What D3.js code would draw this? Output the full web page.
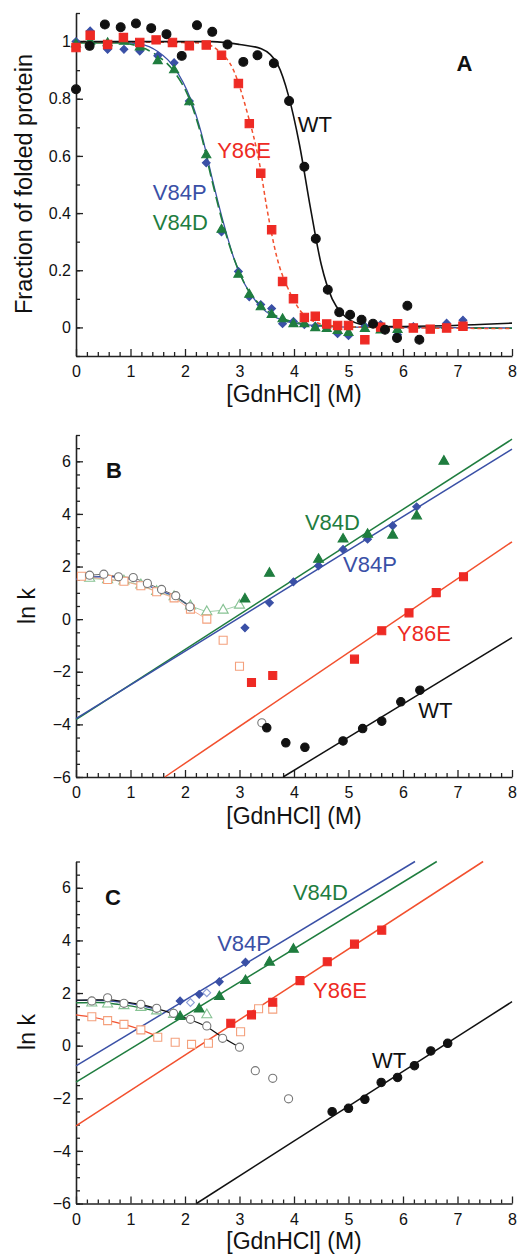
<!DOCTYPE html>
<html>
<head>
<meta charset="utf-8">
<script src="https://cdn.jsdelivr.net/npm/d3@7"></script>
<style>
body { margin: 0; background: #fff; }
svg text { font-family: "Liberation Sans", Arial, Helvetica, sans-serif; }
</style>
</head>
<body>
<script>
// ---- tick labels ----
var xTicks = [0, 1, 2, 3, 4, 5, 6, 7, 8];
var yTicksA = [0, 0.2, 0.4, 0.6, 0.8, 1];
var yTicksK = [-6, -4, -2, 0, 2, 4, 6];
var seriesNames = ["WT", "Y86E", "V84P", "V84D"];

// ---- panel A: fraction folded vs [GdnHCl] ----
var aWT = [[0,0.833],[0.25,0.985],[0.53,1.06],[0.82,1.05],[1.1,1.063],[1.38,1.047],[1.66,1.026],[1.94,0.95],[2.22,1.057],[2.5,1.034],[2.78,0.99],[3.07,0.929],[3.33,0.952],[3.63,0.924],[3.91,0.792],[4.19,0.562],[4.4,0.31],[4.62,0.132],[4.83,0.053],[5.03,0.044],[5.24,0.027],[5.45,0.013],[5.67,-0.008],[5.89,-0.037],[6.08,0.076],[6.3,-0.043]];
var aY86E = [[0,0.979],[0.26,1.022],[0.58,0.99],[0.87,1.014],[1.17,0.997],[1.47,1.006],[1.77,0.997],[2.08,0.985],[2.39,0.988],[2.67,0.952],[2.98,0.853],[3.18,0.713],[3.39,0.539],[3.59,0.342],[3.79,0.161],[3.99,0.1],[4.19,0.035],[4.39,0.039],[4.6,0.012],[4.8,0.007],[5.0,0.007],[5.3,-0.043],[5.59,0.001],[5.9,0.013],[6.19,-0.002],[6.5,-0.006],[6.8,-0.002],[7.1,0.004]];
var aV84P = [[0,1.0],[0.26,1.037],[0.58,0.973],[0.88,0.973],[1.17,0.967],[1.5,0.95],[1.8,0.926],[2.08,0.792],[2.39,0.576],[2.67,0.334],[2.98,0.196],[3.18,0.107],[3.39,0.08],[3.59,0.066],[3.79,0.013],[3.99,0.021],[4.19,0.01],[4.39,0.004],[4.6,0.0],[4.8,-0.022],[5.0,-0.029],[5.3,0.004],[5.59,0.01],[5.9,-0.026],[6.19,0.003],[6.8,0.015],[7.1,0.025]];
var aV84D = [[0,0.99],[0.26,1.0],[0.58,0.995],[0.88,1.0],[1.17,0.98],[1.5,0.932],[1.8,0.9],[2.08,0.788],[2.39,0.603],[2.67,0.342],[2.98,0.185],[3.18,0.115],[3.39,0.071],[3.59,0.044],[3.79,0.029],[3.99,0.012],[4.19,0.012],[4.39,-0.002],[4.6,-0.005],[4.8,-0.012],[5.0,-0.019],[5.3,-0.005],[5.59,-0.01],[5.9,-0.008]];
// fitted curves
var aWTfit = [[0,1.0],[2.5,1.0],[3.0,0.99],[3.4,0.975],[3.7,0.92],[3.9,0.81],[4.1,0.64],[4.3,0.42],[4.5,0.22],[4.7,0.1],[4.9,0.045],[5.2,0.012],[5.6,0.003],[6.5,0.005],[8,0.015]];
var aY86Efit = [[0,1.0],[2.3,0.995],[2.6,0.97],[2.89,0.9],[3.13,0.76],[3.38,0.56],[3.5,0.42],[3.68,0.25],[3.93,0.12],[4.11,0.06],[4.35,0.022],[4.7,0.006],[5.5,0],[8,-0.004]];
var aV84Pfit = [[0,1.0],[0.8,0.997],[1.2,0.99],[1.5,0.965],[1.8,0.91],[2.1,0.8],[2.3,0.68],[2.5,0.52],[2.7,0.37],[2.9,0.24],[3.1,0.15],[3.4,0.07],[3.8,0.025],[4.3,0.008],[5,0.001],[8,-0.002]];
var aV84Dfit = [[0,0.995],[0.8,0.995],[1.2,0.98],[1.5,0.95],[1.8,0.895],[2.1,0.79],[2.3,0.67],[2.5,0.51],[2.7,0.36],[2.9,0.24],[3.1,0.15],[3.4,0.075],[3.8,0.03],[4.3,0.01],[5,0.002],[8,-0.003]];

// ---- panel B: ln k ----
var bWT = [[3.5,-4.13],[3.85,-4.7],[4.2,-4.87],[4.9,-4.63],[5.26,-4.16],[5.61,-3.88],[5.96,-3.14],[6.31,-2.7]];
var bY86E = [[3.22,-2.41],[3.61,-2.14],[5.11,-1.52],[5.61,-0.44],[6.11,0.24],[6.61,1.01],[7.11,1.61]];
var bV84P = [[3.1,-0.33],[3.55,0.62],[3.99,1.42],[4.45,2.03],[4.9,2.65],[5.35,3.04],[5.81,3.55],[6.25,4.27]];
var bV84D = [[3.1,0.76],[3.55,1.74],[4.45,2.27],[4.9,3.04],[5.35,3.22],[5.81,3.19],[6.25,3.92],[6.75,6.0]];
var bWTopen = [[0.25,1.67],[0.51,1.71],[0.78,1.61],[1.05,1.58],[1.31,1.36],[1.57,1.13],[1.83,0.89],[2.09,0.47],[3.41,-3.94]];
var bY86Eopen = [[0.1,1.63],[0.58,1.51],[0.88,1.44],[1.19,1.27],[1.48,1.04],[1.8,0.81],[2.1,0.38],[2.4,0.0],[2.7,-0.8],[3.0,-1.79]];
var bV84Dopen = [[0.25,1.55],[0.58,1.5],[0.88,1.45],[1.19,1.3],[1.48,1.05],[1.8,0.85],[2.1,0.5],[2.4,0.28],[2.7,0.34],[3.0,0.53]];
var bWTfit = [[3.8,-6],[8,-0.7]];
var bY86Efit = [[1.63,-6],[8,2.94]];
var bV84Pfit = [[0,-3.78],[8,6.46]];
var bV84Dfit = [[0,-3.82],[8,6.84]];
var bRefFit = [[0,1.52],[0.3,1.6],[0.6,1.62],[0.9,1.56],[1.2,1.38],[1.5,1.12],[1.8,0.86],[2.1,0.48]];

// ---- panel C: ln k ----
var cWT = [[4.7,-2.51],[5.0,-2.38],[5.3,-2.04],[5.6,-1.4],[5.9,-1.21],[6.21,-0.76],[6.51,-0.2],[6.82,0.09]];
var cY86E = [[2.84,0.85],[3.22,1.17],[3.61,1.65],[4.11,2.47],[4.61,3.19],[5.11,3.86],[5.61,4.39]];
var cV84P = [[1.91,1.7],[2.26,1.95],[2.63,2.43],[3.11,3.17]];
var cV84D = [[1.91,1.1],[2.26,1.39],[2.63,1.86],[3.11,2.47],[3.55,3.17],[3.99,3.66]];
var cWTopen = [[0.29,1.7],[0.58,1.82],[0.88,1.61],[1.19,1.57],[1.48,1.42],[1.79,1.23],[2.1,1.0],[2.4,0.75],[2.69,0.28],[3.0,-0.06],[3.29,-0.95],[3.61,-1.24],[3.9,-2.02]];
var cY86Eopen = [[0.29,1.1],[0.58,0.95],[0.88,0.81],[1.19,0.6],[1.5,0.32],[1.82,0.13],[2.12,0.05],[2.43,0.09],[3.02,0.53],[3.35,1.4],[3.61,1.39]];
var cV84Dopen = [[0.29,1.62],[0.58,1.58],[0.88,1.52],[1.19,1.45],[1.48,1.32],[1.79,1.18],[2.4,1.17]];
var cV84Popen = [[2.1,1.64],[2.4,2.01]];
var cWTfit = [[2.21,-6],[8,1.67]];
var cY86Efit = [[0,-3.05],[7.47,7]];
var cV84Pfit = [[0,-0.77],[6.22,7]];
var cV84Dfit = [[0,-1.39],[6.62,7]];
var cWTref = [[0,1.73],[0.3,1.74],[0.6,1.74],[0.9,1.66],[1.2,1.56],[1.5,1.4],[1.8,1.2],[2.1,0.98],[2.4,0.72],[2.7,0.3],[3.0,-0.06]];
var cV84Pref = [[0,1.72],[0.4,1.72],[0.8,1.66],[1.2,1.52],[1.5,1.36]];
var cV84Dref = [[0,1.63],[0.4,1.64],[0.8,1.56],[1.2,1.44],[1.55,1.28]];
var cY86Eref = [[0,1.17],[0.3,1.08],[0.6,0.95],[0.9,0.8],[1.2,0.6],[1.5,0.35]];

// colours
var cBlack = "#111", cRed = "#ee2a24", cRedLine = "#f2502e", cBlue = "#3a50a6",
    cGreen = "#1f7d3f", cOrange = "#f4a07c", cLGreen = "#86c293", cGrey = "#777";

var W = 532, H = 1255;
var svg = d3.select("body").append("svg").attr("width", W).attr("height", H);

var x = d3.scaleLinear().domain([0, 8]).range([76, 512]);
var yA = d3.scaleLinear().domain([-0.1, 1.1]).range([356, 13]);
var yB = d3.scaleLinear().domain([-6, 7]).range([777, 435]);
var yC = d3.scaleLinear().domain([-6, 7]).range([1203.5, 861.5]);

var xMinor = d3.range(0, 8.001, 0.2).filter(function(v){ return Math.abs(v - Math.round(v)) > 0.01; });
var yMinorA = d3.range(-0.1, 1.1001, 0.1);
var yMinorK = d3.range(-6, 7.001, 0.5);

function drawAxes(y, yTicks, yFmt, yMinor, bottom) {
  var g = svg.append("g");
  // minor ticks
  g.append("g").attr("transform", "translate(0," + bottom + ")")
    .call(d3.axisBottom(x).tickValues(xMinor).tickSize(-4).tickFormat(""))
    .call(function(s){ s.select(".domain").remove(); });
  g.append("g").attr("transform", "translate(76,0)")
    .call(d3.axisLeft(y).tickValues(yMinor).tickSize(-4).tickFormat(""))
    .call(function(s){ s.select(".domain").remove(); });
  // major ticks + labels
  var xa = g.append("g").attr("transform", "translate(0," + bottom + ")")
    .call(d3.axisBottom(x).tickValues(xTicks).tickSizeInner(-7).tickSizeOuter(0).tickPadding(10).tickFormat(d3.format("d")));
  var ya = g.append("g").attr("transform", "translate(76,0)")
    .call(d3.axisLeft(y).tickValues(yTicks).tickSizeInner(-7).tickSizeOuter(0).tickPadding(5).tickFormat(yFmt));
  [xa, ya].forEach(function(a){
    a.selectAll("text").style("font-size", "16px").attr("fill", "#111");
    a.select(".domain").attr("stroke-width", 1.6);
  });
  g.selectAll("line").attr("stroke", "#222").attr("stroke-width", 1.3);
  g.selectAll(".domain").attr("stroke", "#222");
}

drawAxes(yA, yTicksA, function(d){ return d === 1 ? "1" : (d === 0 ? "0" : d3.format(".1f")(d)); }, yMinorA, 356);
drawAxes(yB, yTicksK, d3.format("d"), yMinorK, 777);
drawAxes(yC, yTicksK, d3.format("d"), yMinorK, 1203.5);

// axis titles
[402, 824, 1249].forEach(function(by){
  svg.append("text").attr("x", 294).attr("y", by).attr("text-anchor", "middle")
    .style("font-size", "23px").attr("fill", "#111").text("[GdnHCl] (M)");
});
svg.append("text").attr("transform", "translate(32,184) rotate(-90)").attr("text-anchor", "middle")
  .style("font-size", "23.5px").attr("fill", "#111").text("Fraction of folded protein");
[606, 1032].forEach(function(cy){
  svg.append("text").attr("transform", "translate(35," + cy + ") rotate(-90)").attr("text-anchor", "middle")
    .style("font-size", "23px").attr("fill", "#111").text("ln k");
});

function drawLine(data, y, color, width, dash, curve) {
  var line = d3.line().x(function(d){ return x(d[0]); }).y(function(d){ return y(d[1]); })
    .curve(curve || d3.curveLinear);
  svg.append("path").datum(data).attr("d", line).attr("fill", "none")
    .attr("stroke", color).attr("stroke-width", width).attr("stroke-dasharray", dash || null);
}

function drawPoints(data, y, shape, size, fill, stroke, rot) {
  var sym = d3.symbol().type(shape).size(size);
  svg.append("g").selectAll("path").data(data).enter().append("path")
    .attr("d", sym)
    .attr("transform", function(d){ return "translate(" + x(d[0]) + "," + y(d[1]) + ")" + (rot ? " rotate(45)" : ""); })
    .attr("fill", fill).attr("stroke", stroke).attr("stroke-width", 1.1);
}

function label(txt, mx, vy, y, color, bold) {
  svg.append("text").attr("x", x(mx)).attr("y", y(vy)).attr("fill", color)
    .style("font-size", "22px").style("font-weight", bold ? "bold" : "normal").text(txt);
}

var smooth = d3.curveMonotoneX;

// ---- panel A ----
drawLine(aV84Pfit, yA, cBlue, 1.3, null, smooth);
drawLine(aV84Dfit, yA, cGreen, 1.6, "11,5", smooth);
drawLine(aY86Efit, yA, cRedLine, 1.5, "4,3", smooth);
drawLine(aWTfit, yA, cBlack, 1.6, null, smooth);
drawPoints(aV84P, yA, d3.symbolSquare, 30, cBlue, cBlue, true);
drawPoints(aV84D, yA, d3.symbolTriangle, 36, cGreen, cGreen);
drawPoints(aY86E, yA, d3.symbolSquare, 70, cRed, cRed);
drawPoints(aWT, yA, d3.symbolCircle, 62, cBlack, cBlack);
label("A", 6.98, 0.896, yA, "#111", true);
label(seriesNames[0], 4.07, 0.682, yA, "#111");
label(seriesNames[1], 2.59, 0.591, yA, cRed);
label(seriesNames[2], 1.41, 0.447, yA, cBlue);
label(seriesNames[3], 1.41, 0.342, yA, cGreen);

// ---- panel B ----
drawLine(bV84Dfit, yB, cGreen, 1.5);
drawLine(bV84Pfit, yB, cBlue, 1.5);
drawLine(bY86Efit, yB, cRedLine, 1.5);
drawLine(bWTfit, yB, cBlack, 1.5);
drawLine(bRefFit, yB, cBlue, 1.5, null, smooth);
drawLine(bV84Dopen, yB, cLGreen, 0.8);
drawLine(bY86Eopen.slice(0, 8), yB, cOrange, 0.8);
drawLine(bWTopen.slice(0, 8), yB, "#444", 0.8);
drawPoints(bV84Dopen, yB, d3.symbolTriangle, 44, "#fff", cLGreen);
drawPoints(bY86Eopen, yB, d3.symbolSquare, 64, "#fff", cOrange);
drawPoints(bWTopen, yB, d3.symbolCircle, 52, "#fff", cGrey);
drawPoints(bV84P, yB, d3.symbolSquare, 30, cBlue, cBlue, true);
drawPoints(bV84D, yB, d3.symbolTriangle, 42, cGreen, cGreen);
drawPoints(bY86E, yB, d3.symbolSquare, 64, cRed, cRed);
drawPoints(bWT, yB, d3.symbolCircle, 56, cBlack, cBlack);
label("B", 0.55, 5.36, yB, "#111", true);
label(seriesNames[3], 4.2, 3.38, yB, cGreen);
label(seriesNames[2], 4.9, 1.8, yB, cBlue);
label(seriesNames[1], 5.89, -0.83, yB, cRed);
label(seriesNames[0], 6.28, -3.76, yB, "#111");

// ---- panel C ----
drawLine(cV84Pfit, yC, cBlue, 1.5);
drawLine(cV84Dfit, yC, cGreen, 1.5);
drawLine(cY86Efit, yC, cRedLine, 1.5);
drawLine(cWTfit, yC, cBlack, 1.5);
drawLine(cY86Eref, yC, cRedLine, 1.2, null, smooth);
drawLine(cV84Dref, yC, cGreen, 1.3, null, smooth);
drawLine(cV84Pref, yC, cBlue, 1.3, null, smooth);
drawLine(cWTref, yC, cBlack, 1.3, null, smooth);
drawPoints(cY86Eopen, yC, d3.symbolSquare, 64, "#fff", cOrange);
drawPoints(cV84Dopen, yC, d3.symbolTriangle, 44, "#fff", cLGreen);
drawPoints(cV84Popen, yC, d3.symbolSquare, 30, "#fff", "#8f9fd6", true);
drawPoints(cWTopen, yC, d3.symbolCircle, 52, "#fff", cGrey);
drawPoints(cV84P, yC, d3.symbolSquare, 30, cBlue, cBlue, true);
drawPoints(cV84D, yC, d3.symbolTriangle, 42, cGreen, cGreen);
drawPoints(cY86E, yC, d3.symbolSquare, 64, cRed, cRed);
drawPoints(cWT, yC, d3.symbolCircle, 56, cBlack, cBlack);
label("C", 0.53, 5.34, yC, "#111", true);
label(seriesNames[3], 3.98, 5.53, yC, cGreen);
label(seriesNames[2], 2.59, 3.61, yC, cBlue);
label(seriesNames[1], 4.35, 1.81, yC, cRed);
label(seriesNames[0], 5.43, -0.85, yC, "#111");
</script>
</body>
</html>
